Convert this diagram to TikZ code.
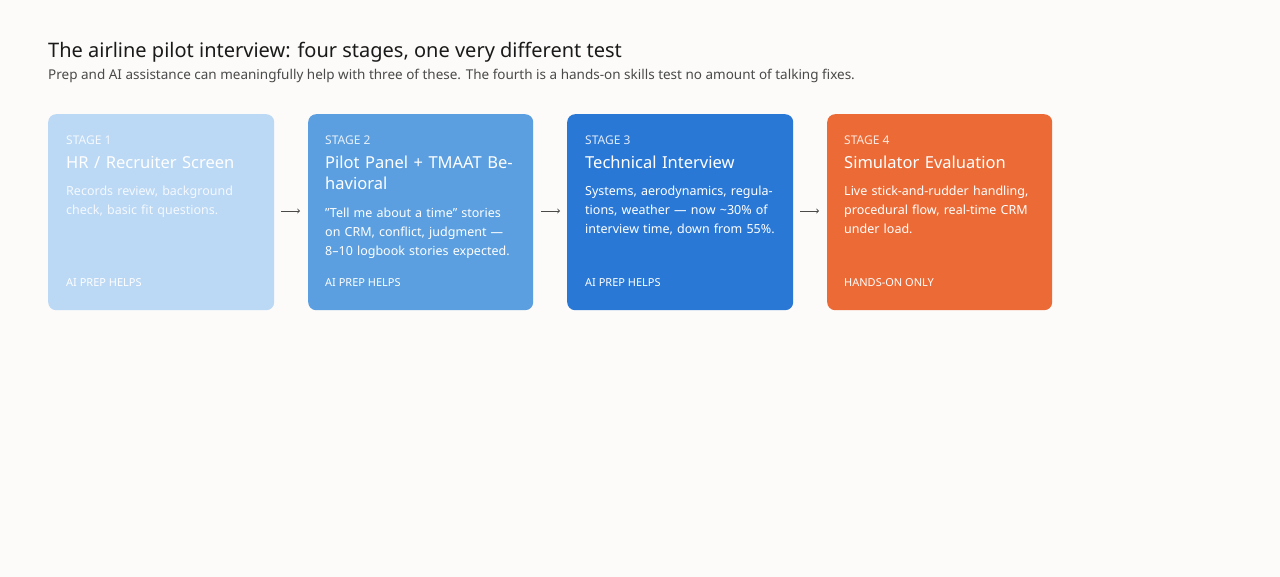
\documentclass[tikz,border=0pt]{standalone}
\usepackage{fontspec}
\setmainfont{Noto Sans}
\definecolor{bg}{HTML}{FCFBF9}
\definecolor{cA}{HTML}{BBD8F5}
\definecolor{cB}{HTML}{5B9FE0}
\definecolor{cC}{HTML}{2A78D6}
\definecolor{cD}{HTML}{EC6A35}
\definecolor{ink}{HTML}{1A1A1A}
\definecolor{sub}{HTML}{4A4A4A}
\begin{document}
\begin{tikzpicture}[x=1pt,y=1pt,
  card/.style={rounded corners=8pt,draw=none,minimum width=226pt,minimum height=196pt,anchor=north west,inner sep=0pt},
  stg/.style={anchor=west,text=white,font=\fontsize{12}{14}\selectfont\bfseries,inner sep=0pt,opacity=0.85,text opacity=0.85},
  ttl/.style={anchor=north west,text=white,font=\fontsize{16.5}{21}\selectfont\bfseries,inner sep=0pt,text width=190pt,align=left},
  dsc/.style={anchor=north west,text=white,font=\fontsize{12.5}{19}\selectfont,inner sep=0pt,text width=192pt,align=left},
  ftr/.style={anchor=west,text=white,font=\fontsize{11}{13}\selectfont\bfseries,inner sep=0pt},
  arr/.style={->,draw=sub,line width=0.9pt,shorten >=0pt}]
\fill[bg] (0,0) rectangle (1280,-577);
\useasboundingbox (0,0) rectangle (1280,-577);
\node[anchor=west,inner sep=0pt,text=ink,font=\fontsize{20}{24}\selectfont\bfseries] (title) at (48,-52) {The airline pilot interview: four stages, one very different test};
\node[anchor=west,inner sep=0pt,text=sub,font=\fontsize{13.5}{16}\selectfont] (subt) at (48,-76) {Prep and AI assistance can meaningfully help with three of these. The fourth is a hands-on skills test no amount of talking fixes.};
% cards
\node[card,fill=cA] (c1) at (48,-114) {};
\node[card,fill=cB,minimum width=225pt] (c2) at (308,-114) {};
\node[card,fill=cC] (c3) at (567,-114) {};
\node[card,fill=cD,minimum width=225pt] (c4) at (827,-114) {};
% card 1
\node[stg] (s1) at (66,-140) {STAGE 1};
\node[ttl] (t1) at (66,-156) {HR / Recruiter Screen};
\node[dsc,text opacity=0.85] (d1) at (66,-186) {Records review, background check, basic fit questions.};
\node[ftr] (f1) at (66,-283) {AI PREP HELPS};
% card 2
\node[stg] (s2) at (325,-140) {STAGE 2};
\node[ttl] (t2) at (325,-156) {Pilot Panel + TMAAT Behavioral};
\node[dsc] (d2) at (325,-208) {"Tell me about a time" stories on CRM, conflict, judgment — 8–10 logbook stories expected.};
\node[ftr] (f2) at (325,-283) {AI PREP HELPS};
% card 3
\node[stg] (s3) at (585,-140) {STAGE 3};
\node[ttl] (t3) at (585,-156) {Technical Interview};
\node[dsc] (d3) at (585,-186) {Systems, aerodynamics, regulations, weather — now \textasciitilde30\% of interview time, down from 55\%.};
\node[ftr] (f3) at (585,-283) {AI PREP HELPS};
% card 4
\node[stg] (s4) at (844,-140) {STAGE 4};
\node[ttl] (t4) at (844,-156) {Simulator Evaluation};
\node[dsc] (d4) at (844,-186) {Live stick-and-rudder handling, procedural flow, real-time CRM under load.};
\node[ftr] (f4) at (844,-283) {HANDS-ON ONLY};
% arrows
\coordinate (a1) at (281,-211); \coordinate (b1) at (300,-211);
\coordinate (a2) at (541,-211); \coordinate (b2) at (560,-211);
\coordinate (a3) at (800,-211); \coordinate (b3) at (819,-211);
\draw[arr] (a1) -- (b1);
\draw[arr] (a2) -- (b2);
\draw[arr] (a3) -- (b3);
\end{tikzpicture}
\end{document}
